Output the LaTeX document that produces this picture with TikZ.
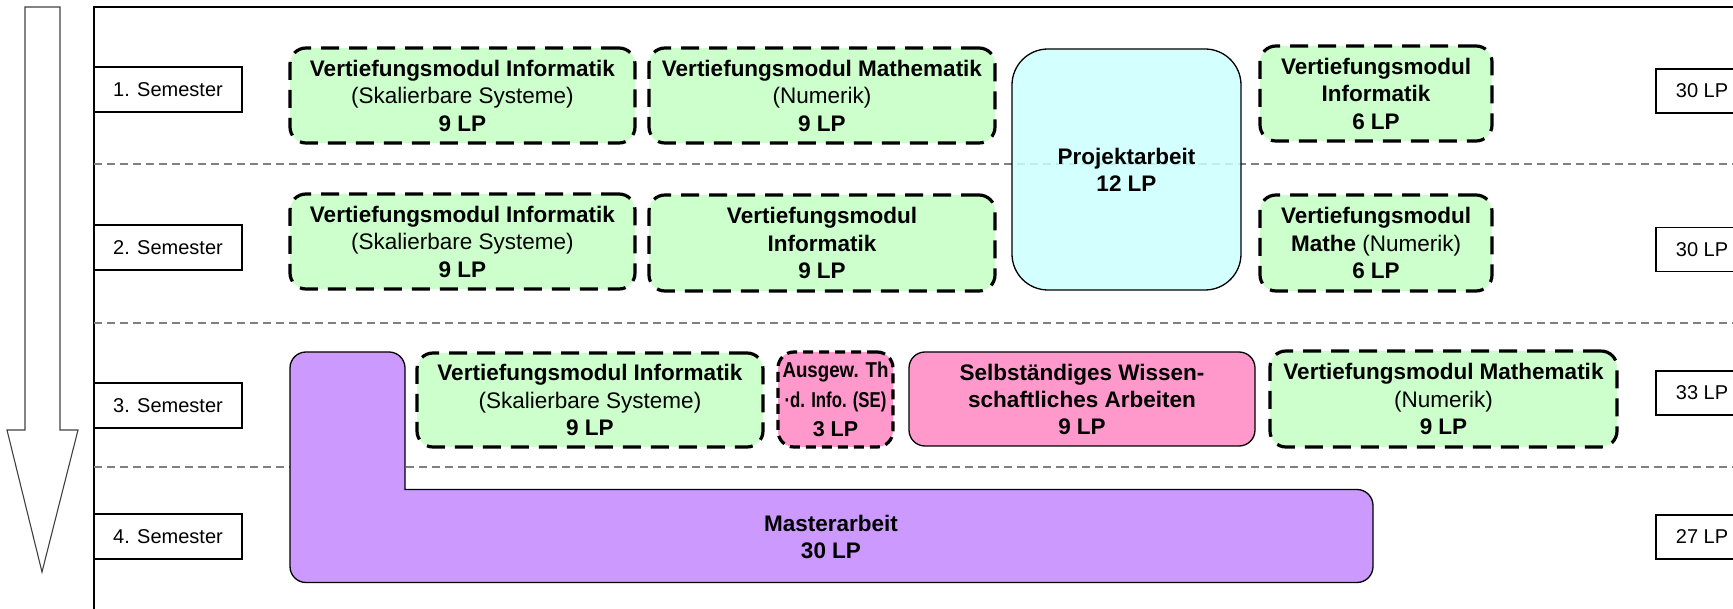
\documentclass[tikz,border=0pt]{standalone}
\usepackage{fontspec}
\setmainfont{Liberation Sans}
\newfontfamily\narrowfont[FakeStretch=0.87]{Liberation Sans}
\newfontfamily\narrowerfont[FakeStretch=0.78]{Liberation Sans}
\usepackage{xcolor}
\usepackage{tikz}
\usetikzlibrary{positioning}
\definecolor{modgreen}{HTML}{CCFFCC}
\definecolor{projcyan}{HTML}{CCFFFF}
\definecolor{sempink}{HTML}{FF99CC}
\definecolor{masterlila}{HTML}{CC99FF}
\tikzset{
    frame line/.style={line width=1.5pt,black},
    sep line/.style={line width=1.5pt,color=black!50,dash pattern=on 8pt off 5pt},
    block arrow/.style={line width=1.1pt,color=black!75},
    label box/.style={draw,line width=1.8pt,inner sep=0pt,font=\fontsize{20}{24}\selectfont},
    semester box/.style={label box,minimum width=148pt,minimum height=45pt},
    lp box/.style={label box,minimum width=92pt,minimum height=44pt},
    module/.style={draw,fill=modgreen,line width=3.2pt,dash pattern=on 18pt off 10pt,rounded corners=16pt,align=center,inner sep=0pt},
    seminar/.style={module,fill=sempink,dash pattern=on 10pt off 6pt,font=\bfseries\fontsize{21.5}{29.5}\selectfont},
    solid block/.style={draw,line width=1.3pt,rounded corners=16pt,align=center,inner sep=0pt,font=\bfseries\fontsize{22.5}{27}\selectfont},
    master shape/.style={draw,line width=1.3pt,fill=masterlila},
}
\tikzstyle{every node}=[font=\fontsize{22.5}{27.5}\selectfont]

\begin{document}
\begin{tikzpicture}[x=1pt,y=-1pt]
    \useasboundingbox (0,0) rectangle (1733,609);
    \draw[block arrow] (25,7) -- (60,7) -- (60,430) -- (78,430) -- (42,572) -- (7,430) -- (25,430) -- cycle;
    \draw[frame line] (94,609) -- (94,7) -- (1733,7);
    \foreach \y in {164,323,467}
        \draw[sep line] (94,\y) -- (1733,\y);

    \foreach \i/\y in {1/89.5,2/247.5,3/405.5,4/536.5}
        \node[semester box] (sem\i) at (168,\y) {\i. Semester};
    \foreach \i/\y/\lp in {1/91/30,2/249.5/30,3/393/33,4/537/27}
        \node[lp box] (lp\i) at (1702,\y) {\lp~LP};

    \node[module,minimum width=345pt,minimum height=95pt] (infa) at (462.5,95.5)
        {\textbf{Vertiefungsmodul Informatik}\\(Skalierbare Systeme)\\\textbf{9 LP}};
    \node[module,minimum width=346pt,minimum height=95pt] (matha) at (822,95.5)
        {\textbf{Vertiefungsmodul Mathematik}\\(Numerik)\\\textbf{9 LP}};
    \node[module,minimum width=232pt,minimum height=95pt] (infb) at (1376,93.5)
        {\textbf{Vertiefungsmodul}\\\textbf{Informatik}\\\textbf{6 LP}};

    \node[module,minimum width=345pt,minimum height=95pt] (infc) at (462.5,241.5)
        {\textbf{Vertiefungsmodul Informatik}\\(Skalierbare Systeme)\\\textbf{9 LP}};
    \node[module,minimum width=346pt,minimum height=96pt] (infd) at (822,243)
        {\textbf{Vertiefungsmodul}\\\textbf{Informatik}\\\textbf{9 LP}};
    \node[module,minimum width=232pt,minimum height=96pt] (mathb) at (1376,243)
        {\textbf{Vertiefungsmodul}\\\textbf{Mathe} (Numerik)\\\textbf{6 LP}};

    \node[solid block,fill=projcyan,fill opacity=0.85,text opacity=1,rounded corners=36pt,
        minimum width=229pt,minimum height=241pt] (projekt) at (1126.5,169.5) {Projektarbeit\\12 LP};

    \draw[master shape,rounded corners=16pt] (290,420) -- (290,352) -- (405,352) -- (405,470)
        [sharp corners] -- (405,489.5) -- (420,489.5)
        [rounded corners=16pt] -- (1373,489.5) -- (1373,582.5) -- (290,582.5) -- cycle;
    \node[align=center,font=\bfseries\fontsize{22.5}{27}\selectfont] (master) at (831,536.5) {Masterarbeit\\30 LP};

    \node[module,minimum width=346pt,minimum height=94pt] (infe) at (590,400)
        {\textbf{Vertiefungsmodul Informatik}\\(Skalierbare Systeme)\\\textbf{9 LP}};
    \node[seminar,minimum width=115pt,minimum height=95pt] (ausgew) at (835.5,399.5)
        {{\narrowfont\bfseries Ausgew. Th}\\{\narrowerfont\bfseries ·d. Info. (SE)}\\3 LP};
    \node[solid block,fill=sempink,minimum width=346pt,minimum height=94pt] (selbst) at (1082,399)
        {Selbständiges Wissen-\\schaftliches Arbeiten\\9 LP};
    \node[module,minimum width=347pt,minimum height=96pt] (mathc) at (1443.5,399)
        {\textbf{Vertiefungsmodul Mathematik}\\(Numerik)\\\textbf{9 LP}};
\end{tikzpicture}
\end{document}
